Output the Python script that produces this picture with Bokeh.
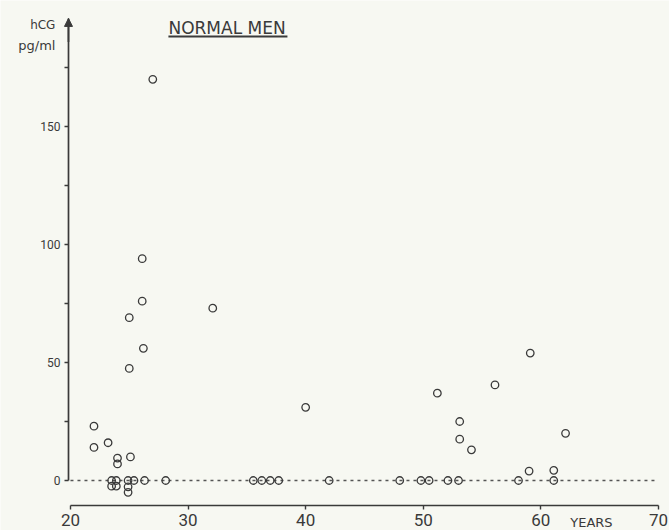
from bokeh.plotting import figure
from bokeh.models import Label, Arrow, NormalHead, FixedTicker, Range1d
from bokeh.embed import file_html
from bokeh.resources import INLINE

# ---- data ----
age_pos = [27.0, 26.1, 26.1, 32.1, 25.0, 26.2, 25.0, 22.0, 22.0, 23.2, 24.0, 24.0,
           25.1, 40.0, 51.2, 53.1, 53.1, 54.1, 56.1, 59.1, 62.1, 59.0, 61.1]
hcg_pos = [170, 94, 76, 73, 69, 56, 47.5, 23, 14, 16, 9.5, 7,
           10, 31, 37, 25, 17.5, 13, 40.5, 54, 20, 4, 4.3]

age_zero = [23.5, 23.9, 24.9, 25.4, 26.3, 28.1,
            23.5, 23.9, 24.9, 24.9,
            35.55, 36.27, 36.99, 37.71, 42.0, 48.0, 49.8, 50.5, 52.1, 53.0, 58.1, 61.1]
hcg_zero = [0, 0, 0, 0, 0, 0,
            -2.4, -2.4, -2.7, -5.0,
            0, 0, 0, 0, 0, 0, 0, 0, 0, 0, 0, 0]

x_ticks = [20, 30, 40, 50, 60, 70]
y_ticks = [0, 25, 50, 75, 100, 125, 150, 175]
y_labels = {0: "0", 50: "50", 100: "100", 150: "150"}

INK = "#3a3a3a"
BG = "#f7f8f2"
FONT = "DejaVu Sans"
NUMFONT = "Roboto"

Y_AXIS_AT = 19.83     # x position of the vertical axis
X_AXIS_AT = -10.6     # y position of the horizontal axis
Y_TOP = 195.8         # top of the vertical axis (arrow tip)

p = figure(width=669, height=530, output_backend="svg", toolbar_location=None,
           title=None,
           x_range=Range1d(14.05, 70.94), y_range=Range1d(-21.19, 203.39),
           min_border_left=0, min_border_right=0, min_border_top=0, min_border_bottom=0)
p.background_fill_color = BG
p.border_fill_color = BG
p.outline_line_color = None
p.xgrid.visible = False
p.ygrid.visible = False

# x axis
xa = p.xaxis[0]
xa.fixed_location = X_AXIS_AT
xa.ticker = FixedTicker(ticks=x_ticks)
xa.bounds = (x_ticks[0], x_ticks[-1])
xa.axis_line_color = INK
xa.axis_line_width = 1.7
xa.major_tick_line_color = INK
xa.major_tick_line_width = 1.4
xa.major_tick_in = 0
xa.major_tick_out = 4
xa.minor_tick_line_color = None
xa.major_label_standoff = 4
xa.major_label_text_font = NUMFONT
xa.major_label_text_font_size = "17px"
xa.major_label_text_color = INK

# y axis
ya = p.yaxis[0]
ya.fixed_location = Y_AXIS_AT
ya.ticker = FixedTicker(ticks=y_ticks)
ya.major_label_overrides = {t: y_labels.get(t, "") for t in y_ticks}
ya.bounds = (0, Y_TOP)
ya.axis_line_color = INK
ya.axis_line_width = 1.7
ya.major_tick_line_color = INK
ya.major_tick_line_width = 1.4
ya.major_tick_in = 0
ya.major_tick_out = 4
ya.minor_tick_line_color = None
ya.major_label_standoff = 4
ya.major_label_text_font = NUMFONT
ya.major_label_text_font_size = "12px"
ya.major_label_text_color = INK

# arrow on top of y axis
p.add_layout(Arrow(end=NormalHead(size=8, fill_color=INK, line_color=INK, line_width=1),
                   x_start=Y_AXIS_AT, y_start=Y_TOP - 10, x_end=Y_AXIS_AT, y_end=Y_TOP,
                   line_color=INK, line_width=1.7))

# dashed zero line
p.segment(x0=[x_ticks[0]], y0=[0], x1=[x_ticks[-1] - 0.2], y1=[0],
          line_color="#555555", line_width=1.3, line_dash="3 4")

# points
p.scatter(age_pos, hcg_pos, marker="circle", size=7.5, fill_color=None,
          line_color=INK, line_width=1.3)
p.scatter(age_zero, hcg_zero, marker="circle", size=7.5, fill_color=None,
          line_color=INK, line_width=1.3)

# texts
p.add_layout(Label(x=28.33, y=195.8, text="NORMAL MEN", text_font=FONT,
                   text_font_size="17px", text_color=INK, text_baseline="top"))
p.segment(x0=[28.33], y0=[188.1], x1=[38.45], y1=[188.1], line_color=INK, line_width=2)

p.add_layout(Label(x=18.72, y=193.2, text="hCG", text_font=FONT, text_font_size="12px",
                   text_color=INK, text_align="right", text_baseline="middle"))
p.add_layout(Label(x=18.72, y=184.3, text="pg/ml", text_font=FONT, text_font_size="13px",
                   text_color=INK, text_align="right", text_baseline="middle"))
p.add_layout(Label(x=62.5, y=-20.9, text="YEARS", text_font=FONT, text_font_size="13px",
                   text_color=INK, text_baseline="bottom"))

open("out.html", "w").write(file_html(p, INLINE))
